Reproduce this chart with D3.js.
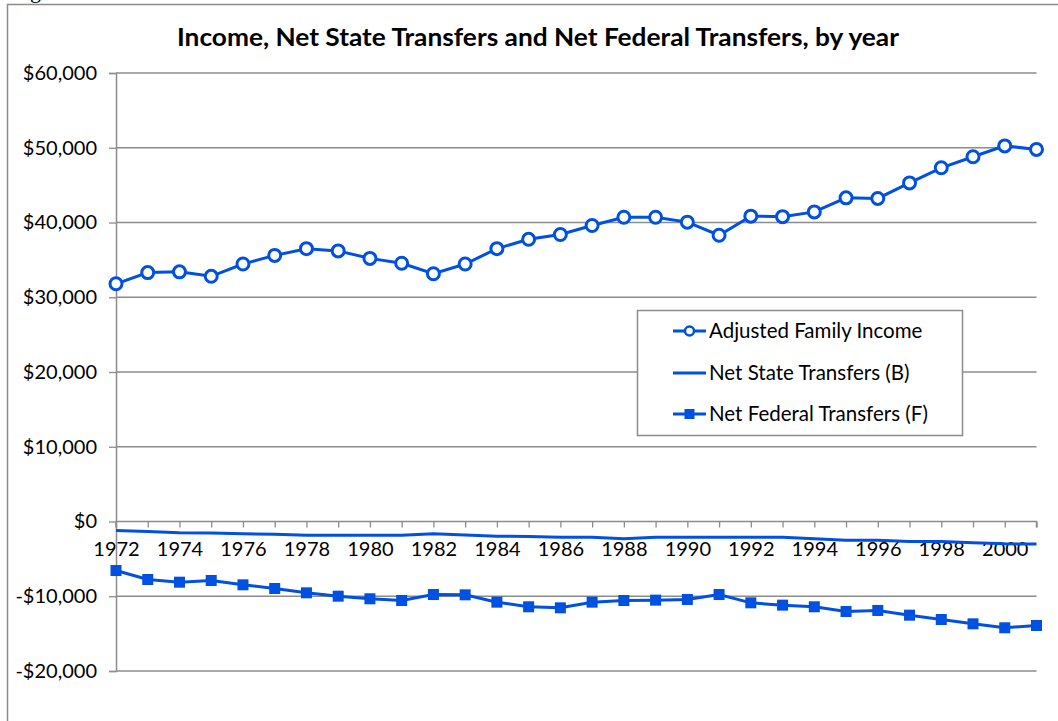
<!DOCTYPE html>
<html><head><meta charset="utf-8">
<script src="https://cdn.jsdelivr.net/npm/d3@7"></script>
<style>body{margin:0;background:#fff;} svg{display:block;}</style>
</head><body>
<svg id="c" width="1058" height="721"></svg>
<script>
const years = d3.range(1972, 2002);
const income = [31800,33300,33400,32800,34450,35600,36500,36200,35200,34550,33150,34450,36500,37750,38400,39600,40700,40700,40050,38300,40850,40780,41420,43300,43220,45300,47320,48800,50250,49780];
const stateTransfers = [-1200,-1350,-1500,-1550,-1650,-1700,-1830,-1830,-1830,-1830,-1650,-1800,-1960,-2000,-2100,-2100,-2320,-2100,-2100,-2100,-2100,-2100,-2320,-2500,-2500,-2680,-2680,-2850,-2990,-3000];
const federalTransfers = [-6560,-7760,-8120,-7890,-8470,-8960,-9540,-9990,-10340,-10570,-9770,-9810,-10790,-11410,-11550,-10790,-10570,-10520,-10430,-9770,-10880,-11190,-11410,-12040,-11900,-12530,-13110,-13690,-14220,-13910];
const yTicks = [-20000,-10000,0,10000,20000,30000,40000,50000,60000];
const seriesNames = ["Adjusted Family Income","Net State Transfers (B)","Net Federal Transfers (F)"];
const title = "Income, Net State Transfers and Net Federal Transfers, by year";

const blue = "#0050E2";
const grid = "#8c8c8c";
const font = "Lato, 'Open Sans', sans-serif";
const svg = d3.select("#c");

// outer chart frame
svg.append("rect").attr("x",7.5).attr("y",4.5).attr("width",1200).attr("height",1000)
  .attr("fill","#fff").attr("stroke","#8c8c8c").attr("stroke-width",1.5);
// stray caption fragment above
svg.append("text").attr("x",30).attr("y",-2).attr("font-family","'Liberation Serif', serif")
  .attr("font-size",22).attr("fill","#000").text("g");

const L = 116, R = 1036.5, T = 73, B = 671;
const x = d3.scaleLinear().domain([1972, 2001]).range([L, R]);
const y = d3.scaleLinear().domain([-20000, 60000]).range([B, T]);

svg.append("text").attr("x",538).attr("y",46).attr("text-anchor","middle")
  .attr("font-family",font).attr("font-weight","bold").attr("font-size",25)
  .attr("textLength",722).attr("lengthAdjust","spacingAndGlyphs").attr("fill","#000").text(title);

// gridlines
svg.append("g").selectAll("line").data(yTicks.filter(d=>d!==0)).join("line")
  .attr("x1",L).attr("x2",R).attr("y1",d=>y(d)).attr("y2",d=>y(d))
  .attr("stroke",grid).attr("stroke-width",1.3);

// y axis
const fmt = d => (d<0?"-":"") + "$" + d3.format(",")(Math.abs(d));
const yAx = svg.append("g").attr("transform",`translate(${L},0)`)
  .call(d3.axisLeft(y).tickValues(yTicks).tickFormat(fmt).tickSize(7).tickPadding(12));
yAx.select(".domain").attr("stroke",grid).attr("stroke-width",1.5);
yAx.selectAll(".tick line").attr("stroke",grid).attr("stroke-width",1.3);
yAx.selectAll("text").attr("font-family",font).attr("font-size",20).attr("fill","#000");

// x axis at zero
const xAx = svg.append("g").attr("transform",`translate(0,${y(0)})`)
  .call(d3.axisBottom(x).tickValues(years).tickSize(6).tickPadding(14)
    .tickFormat(d => (d-1972)%2===0 ? String(d) : ""));
xAx.select(".domain").attr("stroke",grid).attr("stroke-width",1.5).attr("d",`M${L},6V0H${R}V6`);
xAx.selectAll(".tick line").attr("stroke",grid).attr("stroke-width",1.3);
xAx.selectAll("text").attr("font-family",font).attr("font-size",20).attr("fill","#000");

const line = d3.line().x((d,i)=>x(years[i])).y(d=>y(d));

// state transfers
svg.append("path").datum(stateTransfers).attr("d",line).attr("fill","none")
  .attr("stroke",blue).attr("stroke-width",3);
// federal
svg.append("path").datum(federalTransfers).attr("d",line).attr("fill","none")
  .attr("stroke",blue).attr("stroke-width",3);
svg.append("g").selectAll("rect").data(federalTransfers).join("rect")
  .attr("x",(d,i)=>x(years[i])-5.5).attr("y",d=>y(d)-5.5).attr("width",11).attr("height",11).attr("fill",blue);
// income
svg.append("path").datum(income).attr("d",line).attr("fill","none")
  .attr("stroke",blue).attr("stroke-width",3);
svg.append("g").selectAll("circle").data(income).join("circle")
  .attr("cx",(d,i)=>x(years[i])).attr("cy",d=>y(d)).attr("r",6)
  .attr("fill","#fff").attr("stroke",blue).attr("stroke-width",3);

// legend
const lg = svg.append("g");
lg.append("rect").attr("x",637.5).attr("y",310.5).attr("width",325).attr("height",125)
  .attr("fill","#fff").attr("stroke","#8c8c8c").attr("stroke-width",1.5);
const rows = [331, 373, 414];
seriesNames.forEach((name,i)=>{
  const g = lg.append("g");
  g.append("line").attr("x1",673).attr("x2",706).attr("y1",rows[i]).attr("y2",rows[i])
    .attr("stroke",blue).attr("stroke-width",3);
  if(i===0) g.append("circle").attr("cx",689.5).attr("cy",rows[i]).attr("r",4.5)
    .attr("fill","#fff").attr("stroke",blue).attr("stroke-width",2.5);
  if(i===2) g.append("rect").attr("x",684.5).attr("y",rows[i]-5).attr("width",10).attr("height",10).attr("fill",blue);
  g.append("text").attr("x",709).attr("y",rows[i]).attr("dy","0.35em")
    .attr("font-family",font).attr("font-size",20.5).attr("fill","#000").text(name);
});
</script>
</body></html>
